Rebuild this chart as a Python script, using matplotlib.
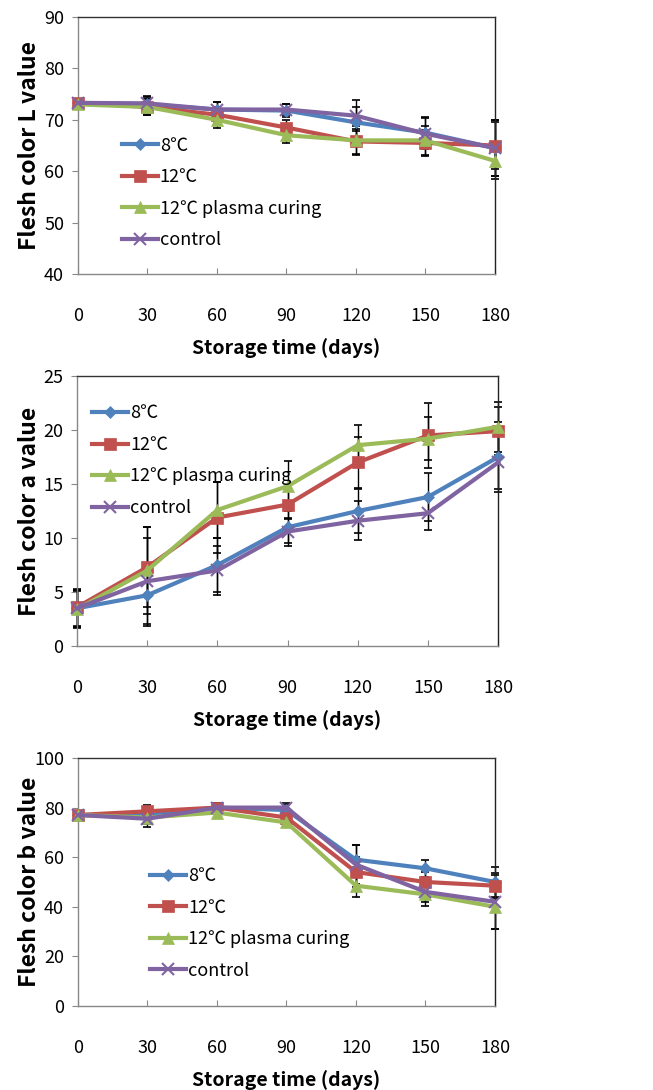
import numpy as np
import matplotlib
matplotlib.use('Agg')
import matplotlib.pyplot as plt

plt.rcParams['font.family'] = ['Liberation Sans Narrow', 'Noto Sans CJK KR', 'DejaVu Sans']

days = [0, 30, 60, 90, 120, 150, 180]
labels = ['8\u2103', '12\u2103', '12\u2103 plasma curing', 'control']

# L value
L_8 = [73.3, 73.0, 72.0, 71.8, 69.5, 67.5, 64.5]
L_12 = [73.3, 72.5, 71.0, 68.5, 65.8, 65.5, 65.0]
L_plasma = [73.0, 72.5, 70.0, 67.0, 66.0, 66.0, 62.0]
L_ctrl = [73.3, 73.2, 72.0, 72.0, 70.8, 67.3, 64.5]
L_8_err = [0.5, 1.5, 1.5, 1.2, 3.0, 3.0, 5.5]
L_12_err = [0.5, 1.5, 1.5, 1.5, 2.5, 2.5, 4.5]
L_plasma_err = [0.5, 1.5, 1.5, 1.5, 2.8, 2.8, 3.5]
L_ctrl_err = [0.5, 1.5, 1.5, 1.0, 3.0, 3.0, 5.5]

# a value
a_8 = [3.5, 4.7, 7.5, 11.0, 12.5, 13.8, 17.5]
a_12 = [3.6, 7.3, 11.9, 13.1, 17.0, 19.5, 19.9]
a_plasma = [3.4, 7.0, 12.6, 14.8, 18.6, 19.2, 20.3]
a_ctrl = [3.5, 6.0, 7.0, 10.6, 11.6, 12.3, 17.0]
a_8_err = [1.7, 2.8, 2.5, 1.5, 2.0, 2.2, 3.2]
a_12_err = [1.7, 3.7, 3.3, 1.3, 2.4, 3.0, 2.2]
a_plasma_err = [1.7, 4.0, 2.6, 2.3, 1.9, 2.0, 2.3]
a_ctrl_err = [1.7, 4.0, 2.3, 1.3, 1.8, 1.6, 2.5]

# b value
b_8 = [77.0, 77.0, 80.0, 79.0, 59.0, 55.5, 50.0]
b_12 = [77.0, 78.5, 80.0, 76.0, 54.0, 50.0, 48.5]
b_plasma = [77.0, 76.0, 78.0, 74.0, 48.5, 45.0, 40.0]
b_ctrl = [77.0, 75.5, 80.0, 80.0, 57.0, 46.0, 42.0]
b_8_err = [1.0, 3.0, 2.0, 2.0, 6.0, 3.5, 6.0]
b_12_err = [1.0, 2.5, 2.0, 3.0, 6.0, 4.0, 5.0]
b_plasma_err = [1.0, 2.5, 2.0, 2.0, 4.5, 4.5, 9.0]
b_ctrl_err = [1.0, 3.5, 2.0, 2.0, 8.0, 4.0, 11.0]

colors = ['#4F81BD', '#C0504D', '#9BBB59', '#8064A2']
markers = ['D', 's', '^', 'x']
msizes = [6, 9, 8, 9]

panels = [
    dict(rect=[0.1194, 0.7486, 0.6386, 0.2358], ys=[L_8, L_12, L_plasma, L_ctrl],
         errs=[L_8_err, L_12_err, L_plasma_err, L_ctrl_err], ylim=(40, 90), yt=np.arange(40, 91, 10),
         ylabel='Flesh color L value', leg=(0.105, 0.535), ylx=-0.088),
    dict(rect=[0.118, 0.4073, 0.6447, 0.2477], ys=[a_8, a_12, a_plasma, a_ctrl],
         errs=[a_8_err, a_12_err, a_plasma_err, a_ctrl_err], ylim=(0, 25), yt=np.arange(0, 26, 5),
         ylabel='Flesh color a value', leg=(0.036, 0.895), ylx=-0.086),
    dict(rect=[0.1194, 0.0771, 0.6386, 0.2275], ys=[b_8, b_12, b_plasma, b_ctrl],
         errs=[b_8_err, b_12_err, b_plasma_err, b_ctrl_err], ylim=(0, 100), yt=np.arange(0, 101, 20),
         ylabel='Flesh color b value', leg=(0.173, 0.56), ylx=-0.088),
]

fig = plt.figure(figsize=(6.53, 10.9), dpi=100)

for p in panels:
    ax = fig.add_axes(p['rect'])
    for y, e in zip(p['ys'], p['errs']):
        eb = ax.errorbar(days, y, yerr=e, fmt='none', ecolor='black', elinewidth=1.0,
                         capsize=3, capthick=1.2, zorder=2)
        for art in eb.lines[1] + eb.lines[2]:
            art.set_clip_on(False)
    for y, c, m, ms, lab in zip(p['ys'], colors, markers, msizes, labels):
        ax.plot(days, y, color=c, marker=m, markersize=ms, linewidth=3, clip_on=False,
                markeredgewidth=1.5 if m == 'x' else 0.5, label=lab, zorder=3)
    ax.set_xlim(0, 180)
    ax.set_ylim(*p['ylim'])
    ax.set_xticks(days)
    ax.set_yticks(p['yt'])
    ax.tick_params(axis='x', pad=24, labelsize=13, length=4, direction='in', color='#888888')
    ax.tick_params(axis='y', pad=6, labelsize=13, length=4, direction='out', color='#888888')
    for s in ['left', 'bottom']:
        ax.spines[s].set_color('#888888')
    ax.spines['top'].set_color('#333333')
    ax.spines['right'].set_color('#222222')
    for s in ax.spines.values():
        s.set_linewidth(1.0)
    ax.set_ylabel(p['ylabel'], fontsize=16.5, fontweight='bold',
                  family=['Noto Sans CJK KR', 'DejaVu Sans'])
    ax.yaxis.set_label_coords(p['ylx'], 0.5)
    ax.set_xlabel('Storage time (days)', fontsize=14, fontweight='bold',
                  family=['Noto Sans CJK KR', 'DejaVu Sans'], labelpad=9)
    ax.legend(loc='upper left', bbox_to_anchor=p['leg'], frameon=False, fontsize=13,
              handlelength=2.0, handletextpad=0.1, labelspacing=0.75, borderpad=0, borderaxespad=0)

fig.savefig('out.png', dpi=100)
